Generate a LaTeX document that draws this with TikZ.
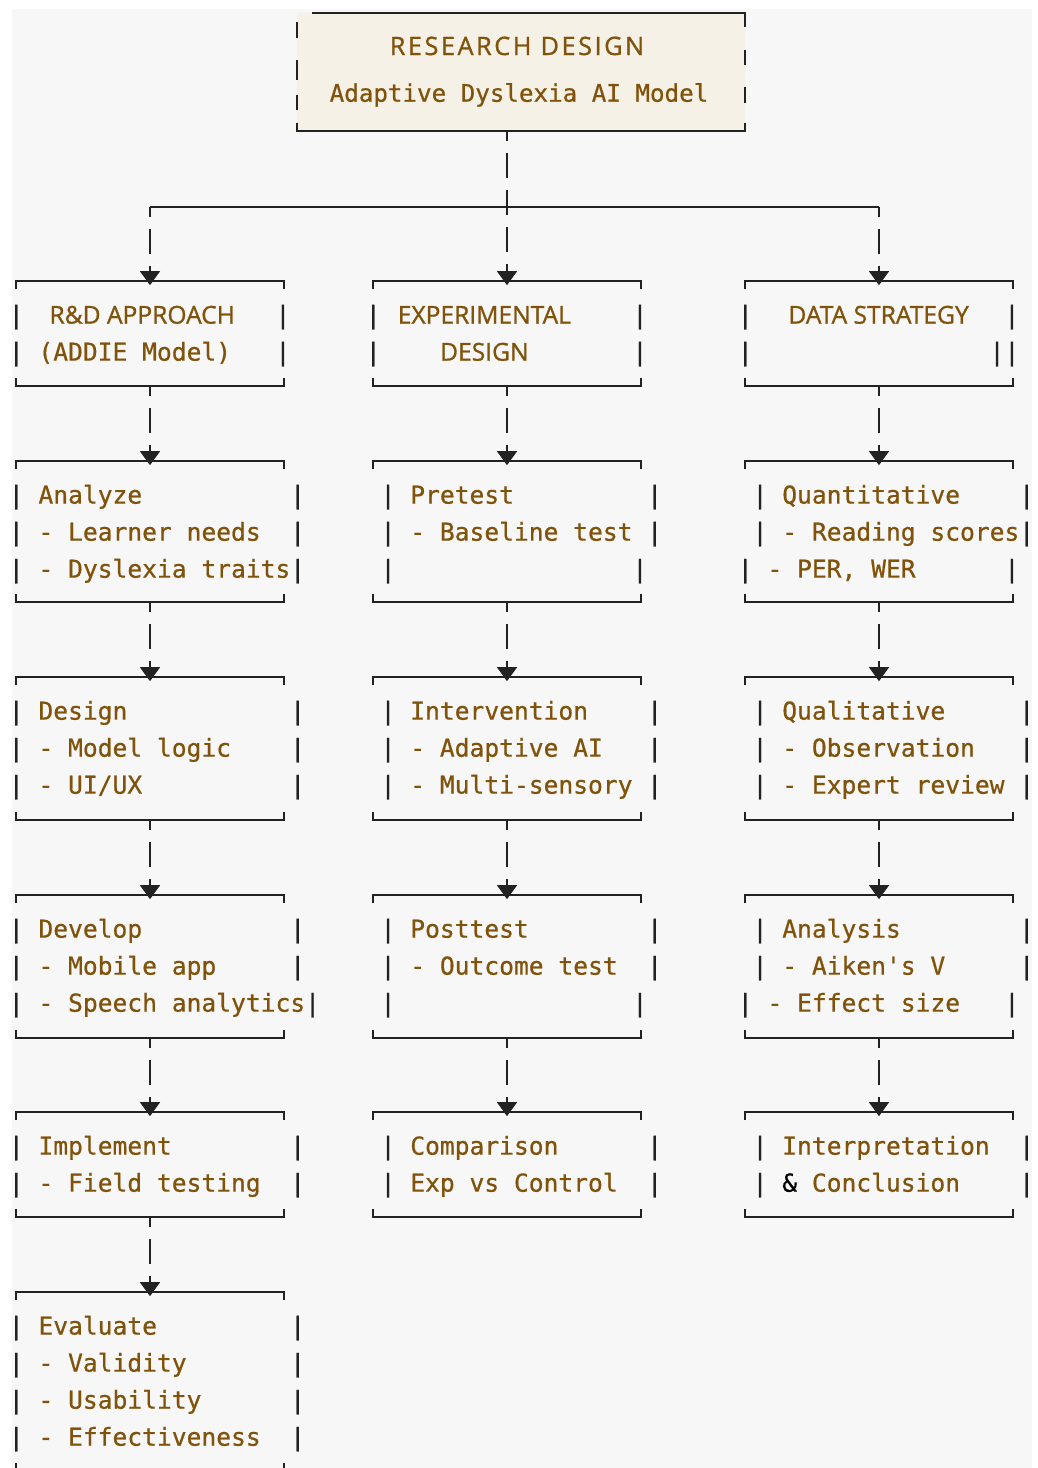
\documentclass[tikz,border=0pt]{standalone}
\usepackage{fontspec}
\setmonofont{DejaVu Sans Mono}
\setsansfont{Open Sans}
\usepackage{tikz}
\usetikzlibrary{arrows.meta,
                calc,
                positioning}

\definecolor{ink}{RGB}{128,82,10}
\definecolor{rule_c}{RGB}{34,34,34}
\definecolor{back_c}{RGB}{247,247,247}
\definecolor{top_c}{RGB}{246,241,231}

% one ascii column bar, with a strut so every row has the same height
\newcommand{\pipe}{\rule[-0.35em]{0pt}{1.4em}\textcolor{rule_c}{|}}
% heading set in sans, centred over #1 mono cells
\newcommand{\hd}[2]{\setlength{\dimen0}{0.60205em}\makebox[#1\dimen0][c]{\sffamily\addfontfeature{FakeBold=1}#2}}

\begin{document}
\begin{tikzpicture}[
			x=0.025cm, y=-0.025cm,
			frame/.style = {draw=rule_c, line width=1.5pt},
			conn/.style = {draw=rule_c, line width=1.8pt,
				dash pattern=on 0.625cm off 0.3cm, dash phase=0.375cm,
				-{Triangle[width=14pt,length=10pt]}, shorten >=-3pt},
			box/.style = {minimum width=6.7cm, inner sep=0pt, outer sep=0pt, anchor=north},
			txt/.style = {font=\fontsize{17.5}{26.32}\selectfont\ttfamily\addfontfeature{FakeBold=0.7},
				text=ink, align=left, inner sep=0pt, anchor=north west},
			]
			\useasboundingbox (0,0) rectangle (1038,1468);
			\fill[white] (0,0) rectangle (1038,1468);
			\fill[back_c] (12,9) rectangle (1032,1468);
			% top box
			\fill[top_c] (297,13) rectangle (745,131);
			\node[minimum width=11.2cm, minimum height=2.95cm, inner sep=0pt, outer sep=0pt] (rd) at (521,72) {};
			\draw[frame] ([xshift=0.375cm]rd.north west) -- (rd.north east) -- ++(0,14);
			\draw[frame] ([yshift=6pt]rd.south west) -- (rd.south west) -- (rd.south east) -- ([yshift=6pt]rd.south east);
			\draw[frame, line width=1.8pt] (297,22) -- (297,38) (297,60) -- (297,80) (297,95) -- (297,110)
				(745,50) -- (745,65) (745,87) -- (745,103);
			\node[font=\fontsize{18}{20}\selectfont\sffamily\addfontfeature{LetterSpace=10,FakeBold=1}, text=ink,
				anchor=base, inner sep=0pt] (title) at (517,55) {RESEARCH DESIGN};
			\node[font=\fontsize{17.2}{20}\selectfont\ttfamily\addfontfeature{FakeBold=0.7}, text=ink,
				anchor=base, inner sep=0pt] (subtitle) at (519,101.7) {Adaptive Dyslexia AI Model};
			% boxes
			\node[box, minimum height=2.625cm] (rnd) at (150,281) {};
			\node[box, minimum height=2.625cm] (exp) at (507,281) {};
			\node[box, minimum height=2.625cm] (dat) at (879,281) {};
			\node[box, minimum height=3.525cm] (ana) at (150,461) {};
			\node[box, minimum height=3.575cm] (des) at (150,677) {};
			\node[box, minimum height=3.575cm] (dev) at (150,895) {};
			\node[box, minimum height=2.625cm] (imp) at (150,1112) {};
			\node[box, minimum height=4.475cm] (eva) at (150,1292) {};
			\node[box, minimum height=3.525cm] (pre) at (507,461) {};
			\node[box, minimum height=3.575cm] (int) at (507,677) {};
			\node[box, minimum height=3.575cm] (pos) at (507,895) {};
			\node[box, minimum height=2.625cm] (com) at (507,1112) {};
			\node[box, minimum height=3.525cm] (qnt) at (879,461) {};
			\node[box, minimum height=3.575cm] (qlt) at (879,677) {};
			\node[box, minimum height=3.575cm] (aly) at (879,895) {};
			\node[box, minimum height=2.625cm] (con) at (879,1112) {};
			\foreach \b in {rnd,exp,dat,ana,des,dev,imp,eva,pre,int,pos,com,qnt,qlt,aly,con} {
				\draw[frame] ([yshift=-6pt]\b.north west) -- (\b.north west) -- (\b.north east) -- ([yshift=-6pt]\b.north east);
				\draw[frame] ([yshift=6pt]\b.south west) -- (\b.south west) -- (\b.south east) -- ([yshift=6pt]\b.south east);
			}
			% texts, left column
			\node[txt] (rnd-t) at ([xshift=-0.185cm,yshift=-0.4125cm]rnd.north west)
				{\pipe~~\hd{12}{R\&D APPROACH}~~~\pipe\\
				 \pipe~(ADDIE~Model)~~~\pipe};
			\node[txt] (ana-t) at ([xshift=-0.185cm,yshift=-0.4125cm]ana.north west)
				{\pipe~Analyze~~~~~~~~~~\pipe\\
				 \pipe~-~Learner~needs~~\pipe\\
				 \pipe~-~Dyslexia~traits\pipe};
			\node[txt] (des-t) at ([xshift=-0.185cm,yshift=-0.4125cm]des.north west)
				{\pipe~Design~~~~~~~~~~~\pipe\\
				 \pipe~-~Model~logic~~~~\pipe\\
				 \pipe~-~UI/UX~~~~~~~~~~\pipe};
			\node[txt] (dev-t) at ([xshift=-0.185cm,yshift=-0.4125cm]dev.north west)
				{\pipe~Develop~~~~~~~~~~\pipe\\
				 \pipe~-~Mobile~app~~~~~\pipe\\
				 \pipe~-~Speech~analytics\pipe};
			\node[txt] (imp-t) at ([xshift=-0.185cm,yshift=-0.4125cm]imp.north west)
				{\pipe~Implement~~~~~~~~\pipe\\
				 \pipe~-~Field~testing~~\pipe};
			\node[txt] (eva-t) at ([xshift=-0.185cm,yshift=-0.4125cm]eva.north west)
				{\pipe~Evaluate~~~~~~~~~\pipe\\
				 \pipe~-~Validity~~~~~~~\pipe\\
				 \pipe~-~Usability~~~~~~\pipe\\
				 \pipe~-~Effectiveness~~\pipe};
			% texts, middle column
			\node[txt] (exp-t) at ([xshift=-0.185cm,yshift=-0.4125cm]exp.north west)
				{\pipe~\hd{12}{EXPERIMENTAL}~~~~\pipe\\
				 \pipe~~~~\hd{6}{DESIGN}~~~~~~~\pipe};
			\node[txt] (pre-t) at ([xshift=0.185cm,yshift=-0.4125cm]pre.north west)
				{\pipe~Pretest~~~~~~~~~\pipe\\
				 \pipe~-~Baseline~test~\pipe\\
				 \pipe~~~~~~~~~~~~~~~~\pipe};
			\node[txt] (int-t) at ([xshift=0.185cm,yshift=-0.4125cm]int.north west)
				{\pipe~Intervention~~~~\pipe\\
				 \pipe~-~Adaptive~AI~~~\pipe\\
				 \pipe~-~Multi-sensory~\pipe};
			\node[txt] (pos-t) at ([xshift=0.185cm,yshift=-0.4125cm]pos.north west)
				{\pipe~Posttest~~~~~~~~\pipe\\
				 \pipe~-~Outcome~test~~\pipe\\
				 \pipe~~~~~~~~~~~~~~~~\pipe};
			\node[txt] (com-t) at ([xshift=0.185cm,yshift=-0.4125cm]com.north west)
				{\pipe~Comparison~~~~~~\pipe\\
				 \pipe~Exp~vs~Control~~\pipe};
			% texts, right column
			\node[txt] (dat-t) at ([xshift=-0.185cm,yshift=-0.4125cm]dat.north west)
				{\pipe~~\hd{13}{DATA STRATEGY}~~\pipe\\
				 \pipe~~~~~~~~~~~~~~~~\pipe\pipe};
			\node[txt] (qnt-t) at ([xshift=-0.185cm,yshift=-0.4125cm]qnt.north west)
				{~\pipe~Quantitative~~~~\pipe\\
				 ~\pipe~-~Reading~scores\pipe\\
				 \pipe~-~PER,~WER~~~~~~\pipe};
			\node[txt] (qlt-t) at ([xshift=-0.185cm,yshift=-0.4125cm]qlt.north west)
				{~\pipe~Qualitative~~~~~\pipe\\
				 ~\pipe~-~Observation~~~\pipe\\
				 ~\pipe~-~Expert~review~\pipe};
			\node[txt] (aly-t) at ([xshift=-0.185cm,yshift=-0.4125cm]aly.north west)
				{~\pipe~Analysis~~~~~~~~\pipe\\
				 ~\pipe~-~Aiken's~V~~~~~\pipe\\
				 \pipe~-~Effect~size~~~\pipe};
			\node[txt] (con-t) at ([xshift=-0.185cm,yshift=-0.4125cm]con.north west)
				{~\pipe~Interpretation~~\pipe\\
				 ~\pipe~\textcolor{black}{\&}~Conclusion~~~~\pipe};
			% connectors
			\coordinate (split) at (507,207);
			\draw[conn] (rd.south -| exp.north) -- (exp);
			\draw[frame, line width=1.8pt] (rnd.north |- split) -- (dat.north |- split);
			\draw[conn] (rnd.north |- split) -- (rnd);
			\draw[conn] (dat.north |- split) -- (dat);
			\foreach \a/\b in {rnd/ana, ana/des, des/dev, dev/imp, imp/eva,
				exp/pre, pre/int, int/pos, pos/com,
				dat/qnt, qnt/qlt, qlt/aly, aly/con}
				\draw[conn] (\a) -- (\b);
		\end{tikzpicture}
\end{document}
